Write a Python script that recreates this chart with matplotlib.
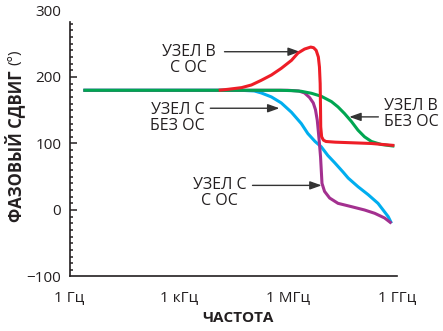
import numpy as np
import matplotlib
matplotlib.use("Agg")
import matplotlib.pyplot as plt

plt.rcParams['font.family'] = ['Open Sans', 'DejaVu Sans']

# log10 of frequency (Hz) and phase (degrees) for each node
lg_f_green = [0.38, 5.8, 6.1, 6.37, 6.65, 6.92, 7.2, 7.38, 7.56, 7.75, 7.93, 8.11, 8.3, 8.57, 8.85, 8.93]
ph_green = [180, 180, 179.5, 178.5, 175.5, 171, 163, 155, 145, 133, 120, 110, 103, 98.5, 96.5, 96]

lg_f_red = [4.1, 4.36, 4.73, 5.0, 5.27, 5.55, 5.82, 6.1, 6.28, 6.46, 6.63, 6.71, 6.78, 6.84, 6.87, 6.89,
            6.9, 6.905, 6.93, 6.98, 7.05, 7.3, 8.3, 8.93]
ph_red = [180, 181.5, 184, 188, 195, 203, 213, 225, 236, 242, 245, 244, 240, 230, 215, 190,
          150, 125, 110, 105, 103, 102, 100, 97]

lg_f_purple = [0.38, 6.0, 6.3, 6.46, 6.6, 6.7, 6.76, 6.81, 6.84, 6.87, 6.9, 6.92, 6.94, 7.01, 7.15,
               7.38, 7.75, 8.11, 8.39, 8.66, 8.85]
ph_purple = [180, 180, 179, 176, 169, 161, 151, 135, 118, 100, 80, 60, 40, 28, 18,
             10, 5, 0, -5, -12, -20]

lg_f_blue = [0.38, 4.7, 5.08, 5.27, 5.55, 5.82, 6.1, 6.37, 6.55, 6.75, 6.92, 7.1, 7.29, 7.52, 7.66,
             7.93, 8.21, 8.48, 8.76, 8.85]
ph_blue = [180, 180, 179, 176, 170, 161, 147, 130, 115, 103, 95, 82, 71, 57, 48,
           35, 23, 10, -10, -20]

x_ticks = [1, 1e3, 1e6, 1e9]
x_tick_labels = ['1 Гц', '1 кГц', '1 МГц', '1 ГГц']
y_ticks = [-100, 0, 100, 200, 300]
y_tick_labels = ['\u2212100', '0', '100', '200', '300']

c_green = '#00a651'
c_red = '#ee1d27'
c_blue = '#00aeef'
c_purple = '#a3308f'
c_text = '#231f20'

fig = plt.figure(figsize=(4.43, 3.31), dpi=100)
ax = fig.add_axes([0.157, 0.1647, 0.739, 0.8036])

lw = 2.2
style = dict(lw=lw, solid_joinstyle='round', solid_capstyle='butt')
ax.plot(10 ** np.array(lg_f_blue), ph_blue, color=c_blue, zorder=2, **style)
ax.plot(10 ** np.array(lg_f_purple), ph_purple, color=c_purple, zorder=3, **style)
ax.plot(10 ** np.array(lg_f_green), ph_green, color=c_green, zorder=4, **style)
ax.plot(10 ** np.array(lg_f_red), ph_red, color=c_red, zorder=5, **style)

ax.set_xscale('log')
ax.set_xlim(1, 1e9)
ax.set_ylim(-100, 300)

for s in ['top', 'right']:
    ax.spines[s].set_visible(False)
for s in ['left', 'bottom']:
    ax.spines[s].set_color(c_text)
    ax.spines[s].set_linewidth(1.2)
ax.spines['left'].set_bounds(-100, 283)

ax.set_xticks(x_ticks)
ax.set_xticklabels(x_tick_labels)
ax.xaxis.set_minor_locator(matplotlib.ticker.NullLocator())
ax.tick_params(axis='x', length=0, pad=10, labelsize=11, labelcolor=c_text)

ax.set_yticks(y_ticks)
ax.set_yticklabels(y_tick_labels)
ax.set_yticks(np.arange(-90, 290, 10), minor=True)
ax.tick_params(axis='y', which='major', direction='in', length=5, width=1.1,
               pad=6, labelsize=11, labelcolor=c_text, color=c_text)
ax.tick_params(axis='y', which='minor', direction='in', length=2.2, width=1.1, color=c_text)
for t in ax.yaxis.get_major_ticks():
    if t.get_loc() in (-100, 300):
        t.tick1line.set_visible(False)

# axis titles
fig.text(238 / 443, 1 - 318 / 331, 'ЧАСТОТА', fontsize=11, fontweight='bold',
         color=c_text, ha='center', va='center')
fig.text(15 / 443, 1 - 222 / 331, 'ФАЗОВЫЙ СДВИГ', fontsize=12, fontweight='bold',
         color=c_text, ha='center', va='bottom', rotation=90)
fig.text(15 / 443, 1 - 65 / 331, '(°)', fontsize=11, color=c_text,
         ha='center', va='bottom', rotation=90)

arrow = dict(arrowstyle='-|>,head_length=0.7,head_width=0.25', color='#333333', lw=1.0,
             shrinkA=0, shrinkB=0)
fs = 11.5

ax.annotate('', xy=(10 ** 6.33, 238), xytext=(10 ** 4.26, 238), arrowprops=arrow)
ax.text(10 ** 3.27, 226, 'УЗЕЛ В\nС ОС', ha='center', va='center', fontsize=fs,
        color=c_text, linespacing=1.0)

ax.annotate('', xy=(10 ** 5.77, 153), xytext=(10 ** 3.87, 153), arrowprops=arrow)
ax.text(10 ** 2.97, 139, 'УЗЕЛ С\nБЕЗ ОС', ha='center', va='center', fontsize=fs,
        color=c_text, linespacing=1.0)

ax.annotate('', xy=(10 ** 7.69, 140), xytext=(10 ** 8.49, 140), arrowprops=arrow)
ax.text(10 ** 8.65, 144, 'УЗЕЛ В\nБЕЗ ОС', ha='left', va='center', fontsize=fs,
        color=c_text, linespacing=1.0)

ax.annotate('', xy=(10 ** 6.93, 37), xytext=(10 ** 5.03, 37), arrowprops=arrow)
ax.text(10 ** 4.12, 26, 'УЗЕЛ С\nС ОС', ha='center', va='center', fontsize=fs,
        color=c_text, linespacing=1.0)

fig.savefig('out.png', dpi=100)
